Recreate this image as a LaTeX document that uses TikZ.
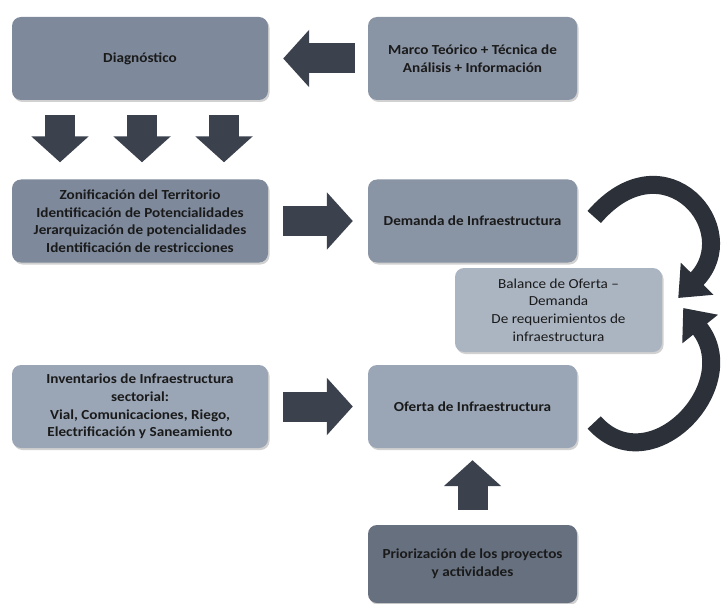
\documentclass[tikz,border=0pt]{standalone}
\usepackage{fontspec}
\setmainfont{Carlito}[FakeStretch=1.1]
\usetikzlibrary{arrows.meta,shadows}
\definecolor{boxdiag}{HTML}{7E8A9C}
\definecolor{boxmid}{HTML}{8994A5}
\definecolor{boxlight}{HTML}{9AA6B6}
\definecolor{boxbal}{HTML}{ABB5C2}
\definecolor{boxdark}{HTML}{66707F}
\definecolor{arrowc}{HTML}{3B424E}
\definecolor{curvec}{HTML}{2B3039}
\definecolor{txt}{HTML}{1A1A1A}
\begin{document}
\begin{tikzpicture}[x=1pt,y=-1pt,
  box/.style={rounded corners=9pt, fill=#1, align=center, inner sep=3pt,
    font=\bfseries\fontsize{13.8}{17.6}\selectfont, text=txt,
    drop shadow={shadow xshift=1.5pt,shadow yshift=-2pt,opacity=0.3,fill=black!60}},
  wide/.style={minimum width=256pt, minimum height=83pt},
  narrow/.style={minimum width=209pt, minimum height=83pt},
  blockarrow/.style={draw=arrowc, line width=30pt,
    -{Triangle[width=56pt,length=26pt]}},
  curvearrow/.style={draw=curvec, line width=18pt,
    -{Triangle[width=44pt,length=27pt]}}]
\useasboundingbox (0,0) rectangle (722,604);

\node[box=boxdiag, wide]   (diag)  at (140,58.5)  {Diagnóstico};
\node[box=boxmid, narrow]  (marco) at (472.5,58.5) {Marco Teórico + Técnica de\\Análisis + Información};
\node[box=boxdiag, wide]   (zon)   at (140,221)   {Zonificación del Territorio\\Identificación de Potencialidades\\Jerarquización de potencialidades\\Identificación de restricciones};
\node[box=boxmid, narrow]  (dem)   at (472.5,221) {Demanda de Infraestructura};
\node[box=boxbal, minimum width=207pt, minimum height=84pt,
      font=\fontsize{13.8}{17.6}\selectfont] (bal) at (558.5,310)
      {Balance de Oferta –\\Demanda\\De requerimientos de\\infraestructura};
\node[box=boxlight, wide]  (inv)   at (140,406.5) {Inventarios de Infraestructura\\sectorial:\\Vial, Comunicaciones, Riego,\\Electrificación y Saneamiento};
\node[box=boxlight, narrow] (ofe)  at (472.5,406.5) {Oferta de Infraestructura};
\node[box=boxdark, minimum width=209pt, minimum height=78pt] (pri) at (472.5,564) {Priorización de los proyectos\\y actividades};

% block arrows
\draw[blockarrow, shorten <=13pt, shorten >=15pt] (marco.west) -- (diag.east);
\foreach \dx in {-80,2,84}
  \draw[blockarrow, shorten <=15pt, shorten >=17pt] ([xshift=\dx pt]diag.south) -- ([xshift=\dx pt]zon.north);
\draw[blockarrow, shorten <=15pt, shorten >=15pt] (zon.east) -- (dem.west);
\draw[blockarrow, shorten <=15pt, shorten >=15pt] (inv.east) -- (ofe.west);
\draw[blockarrow, shorten <=15pt, shorten >=12pt] (pri.north) -- (ofe.south);

% curved arrows
\draw[curvearrow] ([xshift=17pt,yshift=4pt]dem.east)
   .. controls (665,135) and (745,230) .. ([xshift=16pt,yshift=12pt]bal.east);
\draw[curvearrow] ([xshift=17pt,yshift=-16pt]ofe.east)
   .. controls (650,485) and (745,385) .. ([xshift=21pt,yshift=2pt]bal.east);
\end{tikzpicture}
\end{document}
